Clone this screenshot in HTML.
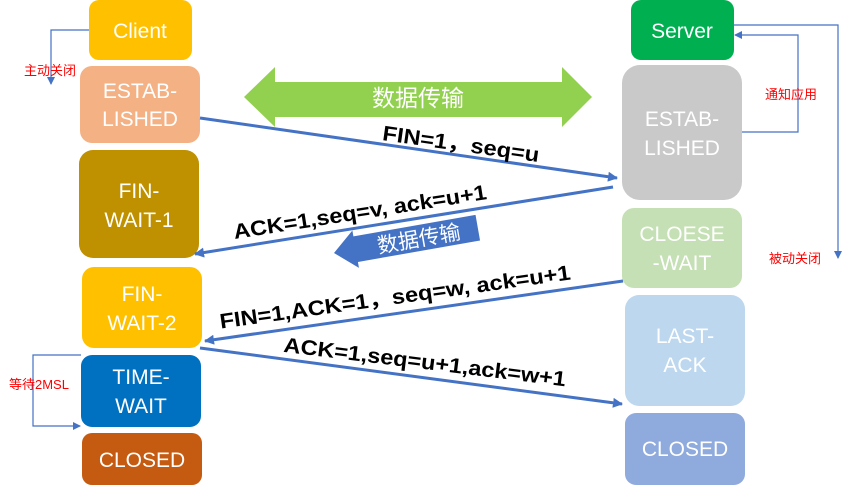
<!DOCTYPE html>
<html><head><meta charset="utf-8"><style>
html,body{margin:0;padding:0;background:#fff;}
svg{display:block;}
.b{font-family:"Liberation Sans","Noto Sans CJK SC",sans-serif;font-size:21px;fill:#fff;text-anchor:middle;}
.l{font-family:"Liberation Sans","Noto Sans CJK SC",sans-serif;font-size:21px;font-weight:bold;fill:#000;text-anchor:middle;}
.r{font-family:"Liberation Sans","Noto Sans CJK SC",sans-serif;font-size:13px;fill:#ff0000;}
</style></head><body>
<svg width="847" height="488" viewBox="0 0 847 488" xmlns="http://www.w3.org/2000/svg">
<defs>
<marker id="a" markerWidth="8" markerHeight="8" refX="7" refY="4" orient="auto" markerUnits="userSpaceOnUse"><path d="M0,0 L8,4 L0,8 Z" fill="#4472C4"/></marker>
<marker id="t" markerWidth="10" markerHeight="10" refX="9" refY="5" orient="auto" markerUnits="userSpaceOnUse"><path d="M0,0 L10,5 L0,10 Z" fill="#4472C4"/></marker>
</defs>
<rect x="89" y="0" width="103" height="60" rx="10" fill="#FFC000"/>
<text class="b" x="140" y="38">Client</text>
<rect x="80" y="66" width="120" height="77" rx="12" fill="#F4B183"/>
<text class="b" x="140" y="98">ESTAB-</text><text class="b" x="140" y="126">LISHED</text>
<rect x="79" y="150" width="120" height="108" rx="14" fill="#BF9000"/>
<text class="b" x="139" y="198">FIN-</text><text class="b" x="139" y="227">WAIT-1</text>
<rect x="82" y="267" width="120" height="81" rx="12" fill="#FFC000"/>
<text class="b" x="142" y="301">FIN-</text><text class="b" x="142" y="330">WAIT-2</text>
<rect x="81" y="355" width="120" height="72" rx="11" fill="#0070C0"/>
<text class="b" x="141" y="384">TIME-</text><text class="b" x="141" y="413">WAIT</text>
<rect x="82" y="433" width="120" height="52" rx="10" fill="#C55A11"/>
<text class="b" x="142" y="467">CLOSED</text>
<rect x="631" y="0" width="103" height="60" rx="10" fill="#00B050"/>
<text class="b" x="682" y="38">Server</text>
<rect x="622" y="65" width="120" height="135" rx="18" fill="#C9C9C9"/>
<text class="b" x="682" y="126">ESTAB-</text><text class="b" x="682" y="155">LISHED</text>
<rect x="622" y="208" width="120" height="80" rx="12" fill="#C5E0B4"/>
<text class="b" x="682" y="241">CLOESE</text><text class="b" x="682" y="270">-WAIT</text>
<rect x="625" y="295" width="120" height="111" rx="14" fill="#BDD7EE"/>
<text class="b" x="685" y="343">LAST-</text><text class="b" x="685" y="372">ACK</text>
<rect x="625" y="413" width="120" height="72" rx="11" fill="#8FAADC"/>
<text class="b" x="685" y="456">CLOSED</text>
<polygon points="244,97 275,67 275,82 562,82 562,67 592,97 562,127 562,117 275,117 275,127" fill="#92D050"/>
<text class="b" x="418" y="106" style="font-size:23px">数据传输</text>
<g transform="translate(334,253) rotate(-10)">
<polygon points="0,0 22,-19 22,-13 146,-13 146,13 22,13 22,19" fill="#4472C4"/>
<text class="b" x="86" y="8" style="font-size:21px">数据传输</text>
</g>
<g stroke="#4472C4" stroke-width="3" fill="none">
<line x1="200" y1="118" x2="617" y2="178" marker-end="url(#t)"/>
<line x1="613" y1="187" x2="195" y2="254" marker-end="url(#t)"/>
<line x1="623" y1="281" x2="205" y2="341" marker-end="url(#t)"/>
<line x1="200" y1="348" x2="622" y2="404" marker-end="url(#t)"/>
</g>
<text class="l" transform="translate(460,151) rotate(8)" textLength="158" lengthAdjust="spacingAndGlyphs">FIN=1，seq=u</text>
<text class="l" transform="translate(361,219) rotate(-9)" textLength="256" lengthAdjust="spacingAndGlyphs">ACK=1,seq=v, ack=u+1</text>
<text class="l" transform="translate(396,304) rotate(-8)" textLength="354" lengthAdjust="spacingAndGlyphs">FIN=1,ACK=1，seq=w, ack=u+1</text>
<text class="l" transform="translate(424,369) rotate(7)" textLength="284" lengthAdjust="spacingAndGlyphs">ACK=1,seq=u+1,ack=w+1</text>
<g stroke="#4472C4" stroke-width="1.2" fill="none">
<polyline points="89,30 51,30 51,84" marker-end="url(#a)"/>
<polyline points="734,25 838,25 838,258" marker-end="url(#a)"/>
<polyline points="742,132 798,132 798,35 735,35" marker-end="url(#a)"/>
<polyline points="81,355 33,355 33,426 80,426" marker-end="url(#a)"/>
</g>
<text class="r" x="24" y="75">主动关闭</text>
<text class="r" x="765" y="99">通知应用</text>
<text class="r" x="769" y="263">被动关闭</text>
<text class="r" x="9" y="389">等待2MSL</text>
</svg>
</body></html>
